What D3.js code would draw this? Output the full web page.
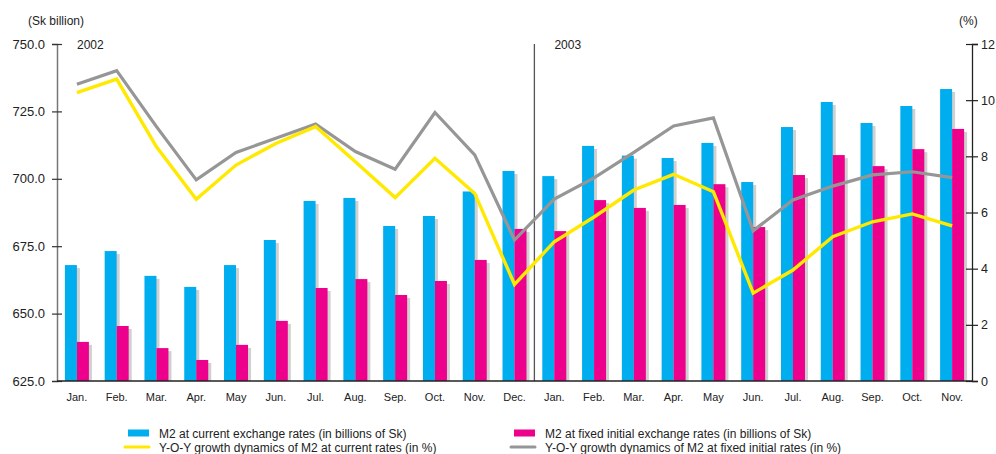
<!DOCTYPE html>
<html>
<head>
<meta charset="utf-8">
<script src="https://cdn.jsdelivr.net/npm/d3@7"></script>
<style>
  html, body { margin: 0; padding: 0; background: #fff; }
  svg text { font-family: "Liberation Sans", Arial, Helvetica, sans-serif; fill: #222; }
</style>
</head>
<body>
<svg id="chart" width="996" height="454"></svg>
<script>
// Months, Jan 2002 – Nov 2003
const months = ["Jan.","Feb.","Mar.","Apr.","May","Jun.","Jul.","Aug.","Sep.","Oct.","Nov.","Dec.",
                "Jan.","Feb.","Mar.","Apr.","May","Jun.","Jul.","Aug.","Sep.","Oct.","Nov."];
const years = [{label: "2002", start: 0}, {label: "2003", start: 12}];

// M2 in billions of Sk
const m2Current = [668.0, 673.2, 664.0, 659.9, 668.0, 677.3, 691.8, 692.9, 682.5, 686.2, 695.3, 702.9,
                   701.0, 712.2, 708.6, 707.7, 713.3, 698.8, 719.2, 728.5, 720.7, 727.0, 733.3];
const m2Fixed   = [639.5, 645.4, 637.2, 632.8, 638.4, 647.3, 659.5, 662.8, 656.9, 662.1, 669.9, 681.4,
                   680.6, 692.1, 689.2, 690.3, 698.0, 682.1, 701.4, 708.8, 704.7, 711.0, 718.5];

// Year-on-year growth, %
const growthCurrent = [10.27, 10.75, 8.34, 6.47, 7.69, 8.46, 9.06, 7.81, 6.53, 7.93, 6.68, 3.44,
                       4.96, 5.84, 6.80, 7.36, 6.74, 3.13, 3.95, 5.14, 5.67, 5.95, 5.52];
const growthFixed   = [10.57, 11.05, 9.06, 7.16, 8.14, 8.64, 9.15, 8.17, 7.54, 9.56, 8.05, 5.02,
                       6.48, 7.23, 8.14, 9.08, 9.37, 5.35, 6.45, 6.94, 7.34, 7.45, 7.24];

const leftTicks = [625, 650, 675, 700, 725, 750];
const rightTicks = [0, 2, 4, 6, 8, 10, 12];

const legendItems = [
  {label: "M2 at current exchange rates (in billions of Sk)", type: "bar", color: "#00aeef"},
  {label: "M2 at fixed initial exchange rates (in billions of Sk)", type: "bar", color: "#ec008c"},
  {label: "Y-O-Y growth dynamics of M2 at current rates (in %)", type: "line", color: "#ffe900"},
  {label: "Y-O-Y growth dynamics of M2 at fixed initial rates (in %)", type: "line", color: "#969696"}
];

const svg = d3.select("#chart");
const plotLeft = 57, plotRight = 972, plotTop = 44, plotBottom = 381;

const x = d3.scaleBand().domain(d3.range(months.length)).range([plotLeft, plotRight]).padding(0);
const yL = d3.scaleLinear().domain([625, 750]).range([plotBottom, plotTop]);
const yR = d3.scaleLinear().domain([0, 12]).range([plotBottom, plotTop]);
const cx = i => x(i) + x.bandwidth() / 2;

const barW = 12, sh = 3;

// bar shadows
const g = svg.append("g");
const shadowData = [];
m2Current.forEach((v, i) => shadowData.push({x: cx(i) - barW + sh, v}));
m2Fixed.forEach((v, i) => shadowData.push({x: cx(i) + sh, v}));
g.selectAll("rect.shadow").data(shadowData).join("rect")
  .attr("class", "shadow")
  .attr("x", d => d.x).attr("width", barW)
  .attr("y", d => yL(d.v) + sh).attr("height", d => plotBottom - yL(d.v) - sh)
  .attr("fill", "#d0d0d0");

// bars
g.selectAll("rect.cur").data(m2Current).join("rect")
  .attr("class", "cur")
  .attr("x", (d, i) => cx(i) - barW).attr("width", barW)
  .attr("y", d => yL(d)).attr("height", d => plotBottom - yL(d))
  .attr("fill", "#00aeef");
g.selectAll("rect.fix").data(m2Fixed).join("rect")
  .attr("class", "fix")
  .attr("x", (d, i) => cx(i)).attr("width", barW)
  .attr("y", d => yL(d)).attr("height", d => plotBottom - yL(d))
  .attr("fill", "#ec008c");

// year separator and year labels
const sepX = x(years[1].start);
svg.append("line").attr("x1", sepX).attr("x2", sepX).attr("y1", plotTop).attr("y2", plotBottom)
  .attr("stroke", "#555").attr("stroke-width", 1.3);
svg.selectAll("text.year").data(years).join("text")
  .attr("class", "year")
  .attr("x", d => x(d.start) + 20).attr("y", plotTop + 5)
  .attr("font-size", 12).text(d => d.label);

// growth lines
const line = d3.line().x((d, i) => cx(i)).y(d => yR(d));
svg.append("path").datum(growthFixed).attr("d", line)
  .attr("fill", "none").attr("stroke", "#969696").attr("stroke-width", 3.2).attr("stroke-linejoin", "miter");
svg.append("path").datum(growthCurrent).attr("d", line)
  .attr("fill", "none").attr("stroke", "#ffe900").attr("stroke-width", 3.4).attr("stroke-linejoin", "miter");

// left axis
const axL = svg.append("g").attr("transform", `translate(${plotLeft},0)`)
  .call(d3.axisLeft(yL).tickValues(leftTicks).tickFormat(d3.format(".1f")).tickSize(5).tickPadding(7));
axL.select(".domain").attr("stroke", "#777").attr("stroke-width", 1.5);
axL.selectAll(".tick line").attr("x2", 5).attr("x1", -5).attr("stroke", "#333").attr("stroke-width", 1.2);
axL.selectAll(".tick text").attr("font-size", 13).attr("fill", "#222")
  .attr("font-family", "Liberation Sans, Arial, sans-serif");

// right axis
const axR = svg.append("g").attr("transform", `translate(${plotRight},0)`)
  .call(d3.axisRight(yR).tickValues(rightTicks).tickSize(6).tickPadding(3));
axR.select(".domain").attr("stroke", "#222").attr("stroke-width", 1.3);
axR.selectAll(".tick line").attr("x1", -6).attr("x2", 6).attr("stroke", "#222").attr("stroke-width", 1.2);
axR.selectAll(".tick text").attr("font-size", 12.5).attr("fill", "#222")
  .attr("font-family", "Liberation Sans, Arial, sans-serif");

// baseline and month labels
svg.append("line").attr("x1", plotLeft).attr("x2", plotRight).attr("y1", plotBottom).attr("y2", plotBottom)
  .attr("stroke", "#222").attr("stroke-width", 1.5);
svg.selectAll("text.month").data(months).join("text")
  .attr("class", "month")
  .attr("x", (d, i) => cx(i)).attr("y", plotBottom + 20)
  .attr("text-anchor", "middle").attr("font-size", 11).text(d => d);

// unit labels
svg.append("text").attr("x", 28).attr("y", 25).attr("font-size", 12).text("(Sk billion)");
svg.append("text").attr("x", 959).attr("y", 25).attr("font-size", 12).text("(%)");

// legend
const legPos = [{x: 128, y: 433}, {x: 514, y: 433}, {x: 128, y: 447}, {x: 514, y: 447}];
const leg = svg.selectAll("g.leg").data(legendItems).join("g")
  .attr("class", "leg")
  .attr("transform", (d, i) => `translate(${legPos[i].x},${legPos[i].y})`);
leg.filter(d => d.type === "bar").append("rect")
  .attr("x", 0).attr("y", -3.5).attr("width", 21).attr("height", 7).attr("fill", d => d.color);
leg.filter(d => d.type === "line").append("line")
  .attr("x1", -3).attr("x2", 21).attr("y1", 0).attr("y2", 0)
  .attr("stroke", d => d.color).attr("stroke-width", 3).attr("stroke-linecap", "round");
leg.append("text").attr("x", 31).attr("y", 4.5).attr("font-size", 12).text(d => d.label);
</script>
</body>
</html>
